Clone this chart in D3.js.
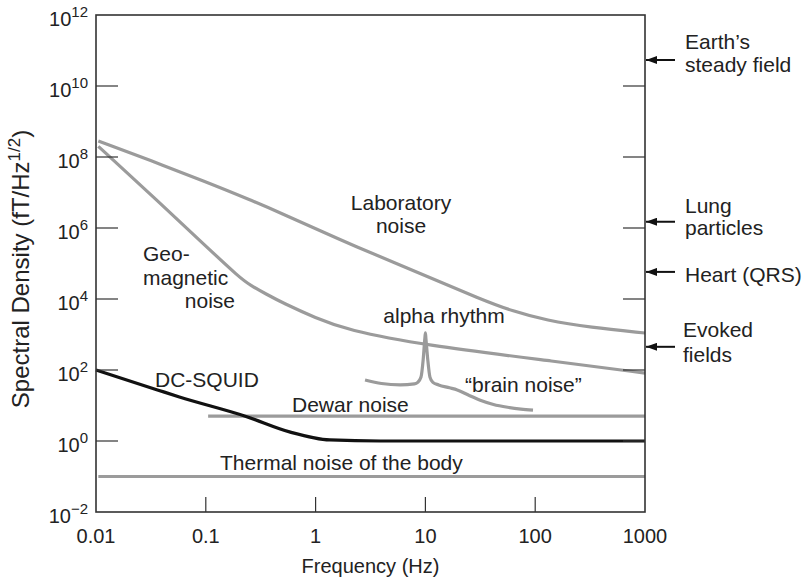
<!DOCTYPE html>
<html><head><meta charset="utf-8">
<script src="https://cdn.jsdelivr.net/npm/d3@7"></script>
<style>
html,body{margin:0;padding:0;background:#fff;}
text{font-family:"Liberation Sans",Arial,Helvetica,sans-serif;fill:#222;}
</style></head>
<body><svg id="c" width="809" height="584"></svg>
<script>
// ---- data (frequency in Hz, spectral density in fT/Hz^1/2) ----
const xTicks = [0.01, 0.1, 1, 10, 100, 1000];
const xTickLabels = ["0.01", "0.1", "1", "10", "100", "1000"];
const yTicks = [1e-2, 1e0, 1e2, 1e4, 1e6, 1e8, 1e10, 1e12];
const yTickExps = ["\u22122", "0", "2", "4", "6", "8", "10", "12"];

const laboratory = [[0.0105,2.82e8],[0.0316,7.94e7],[0.1,2.0e7],[0.251,6.31e6],[0.501,2.51e6],[1,9.55e5],[2.04,3.55e5],[10,4.57e4],[31.6,1.0e4],[63.1,4.47e3],[126,2.51e3],[316,1.58e3],[1000,1.1e3]];
const geomagnetic = [[0.0105,2.0e8],[0.0316,8.71e6],[0.1,3.09e5],[0.205,3.91e4],[0.253,2.48e4],[0.353,1.38e4],[0.505,7.71e3],[1,2.92e3],[1.93,1.34e3],[9.5,506],[168,168],[1000,82]];
const brain = [[2.82,52.5],[3.98,41.7],[5.89,38.0],[7.94,40.7],[8.51,44.7],[9.12,63.1],[9.55,200],[9.89,794],[10,1122],[10.1,794],[10.5,200],[11.0,63.1],[11.7,44.7],[13.2,38.0],[16.6,31.6],[19.5,27.5],[25.1,19.1],[31.6,14.1],[41.7,10.7],[56.2,8.9],[74.1,7.9],[95.5,7.4]];
const dcSquid = [[0.01,100],[0.0363,27.5],[0.0575,17.4],[0.229,5.01],[0.589,1.78],[1.35,1.07],[3.89,1.0],[10,1.0],[100,1.0],[1000,1.0]];
const dewar = [[0.105,5],[1000,5]];
const thermal = [[0.0105,0.1],[1000,0.1]];

const sources = ["Earth\u2019s|steady field", "Lung|particles", "Heart (QRS)", "Evoked|fields"];
const sourceLevels = [5.4e10, 1.5e6, 5.8e4, 450];

// ---- layout ----
const svg = d3.select("#c");
const L = 96, R = 645, T = 15, B = 512;
const x = d3.scaleLog().domain([0.01, 1000]).range([L, R]);
const y = d3.scaleLog().domain([1e-2, 1e12]).range([B, T]);
const FS = 20, FA = 21;

// curves
const smooth = d3.line().x(d => x(d[0])).y(d => y(d[1])).curve(d3.curveBasis);
const mono = d3.line().x(d => x(d[0])).y(d => y(d[1])).curve(d3.curveMonotoneX);
const gray = "#9b9b9b";
[[thermal, gray, mono], [dewar, gray, mono], [laboratory, gray, smooth], [geomagnetic, gray, smooth],
 [brain, gray, mono], [dcSquid, "#111", mono]]
  .forEach(([d, c, gen]) => {
    svg.append("path").attr("d", gen(d)).attr("fill", "none")
      .attr("stroke", c).attr("stroke-width", 3.2).attr("stroke-linejoin", "round");
  });

// axes (ticks inward)
const ax = svg.append("g").attr("stroke", "#333").attr("stroke-width", 1.2);
xTicks.slice(1, -1).forEach(t => {
  ax.append("line").attr("x1", x(t)).attr("x2", x(t)).attr("y1", B).attr("y2", B - 15);
});
yTicks.slice(1, -1).forEach(t => {
  ax.append("line").attr("x1", L).attr("x2", L + 22).attr("y1", y(t)).attr("y2", y(t));
  ax.append("line").attr("x1", R).attr("x2", R - 22).attr("y1", y(t)).attr("y2", y(t));
});
svg.append("rect").attr("x", L).attr("y", T).attr("width", R - L).attr("height", B - T)
  .attr("fill", "none").attr("stroke", "#333").attr("stroke-width", 1.6);

// tick labels
xTicks.forEach((t, i) => {
  svg.append("text").attr("x", x(t)).attr("y", B + 31).attr("text-anchor", "middle")
    .attr("font-size", FS).text(xTickLabels[i]);
});
yTicks.forEach((t, i) => {
  const tx = svg.append("text").attr("x", 88).attr("y", y(t) + 11).attr("text-anchor", "end").attr("font-size", FS);
  tx.append("tspan").text("10");
  tx.append("tspan").attr("dy", -9).attr("font-size", 15).text(yTickExps[i]);
});

// axis titles
svg.append("text").attr("x", (L + R) / 2).attr("y", 573).attr("text-anchor", "middle")
  .attr("font-size", FS).text("Frequency (Hz)");
const yl = svg.append("text").attr("transform", "translate(29,269) rotate(-90)")
  .attr("text-anchor", "middle").attr("font-size", 24);
yl.append("tspan").text("Spectral Density (fT/Hz");
yl.append("tspan").attr("dy", -9).attr("font-size", 17).text("1/2");
yl.append("tspan").attr("dy", 9).text(")");

// right-side source arrows
svg.append("defs").append("marker").attr("id", "ah").attr("viewBox", "0 0 11 8")
  .attr("refX", 11).attr("refY", 4).attr("markerWidth", 11).attr("markerHeight", 8)
  .attr("markerUnits", "userSpaceOnUse").attr("orient", "auto")
  .append("path").attr("d", "M0,0L11,4L0,8Z").attr("fill", "#111");
const srcLayout = [[685, 49, 23], [685, 213, 22], [685, 282, 0], [683, 337, 25]];
sources.forEach((s, i) => {
  const yy = y(sourceLevels[i]);
  svg.append("line").attr("x1", 675).attr("x2", R + 1).attr("y1", yy).attr("y2", yy)
    .attr("stroke", "#111").attr("stroke-width", 2).attr("marker-end", "url(#ah)");
  const [lx, ly, gap] = srcLayout[i];
  s.split("|").forEach((part, k) => {
    svg.append("text").attr("x", lx).attr("y", ly + k * gap).attr("font-size", FA).text(part);
  });
});

// in-plot labels
const labels = [
  ["Laboratory", 401, 210, "middle"], ["noise", 401, 233, "middle"],
  ["Geo-", 143, 261, "start"], ["magnetic", 143, 285, "start"], ["noise", 235, 308, "end"],
  ["alpha rhythm", 444, 323, "middle"],
  ["\u201cbrain noise\u201d", 465, 392, "start"],
  ["DC-SQUID", 155, 387, "start"],
  ["Dewar noise", 292, 412, "start"],
  ["Thermal noise of the body", 220, 470, "start"]
];
labels.forEach(([t, lx, ly, a]) => {
  svg.append("text").attr("x", lx).attr("y", ly).attr("text-anchor", a).attr("font-size", FA).text(t);
});
</script></body></html>
